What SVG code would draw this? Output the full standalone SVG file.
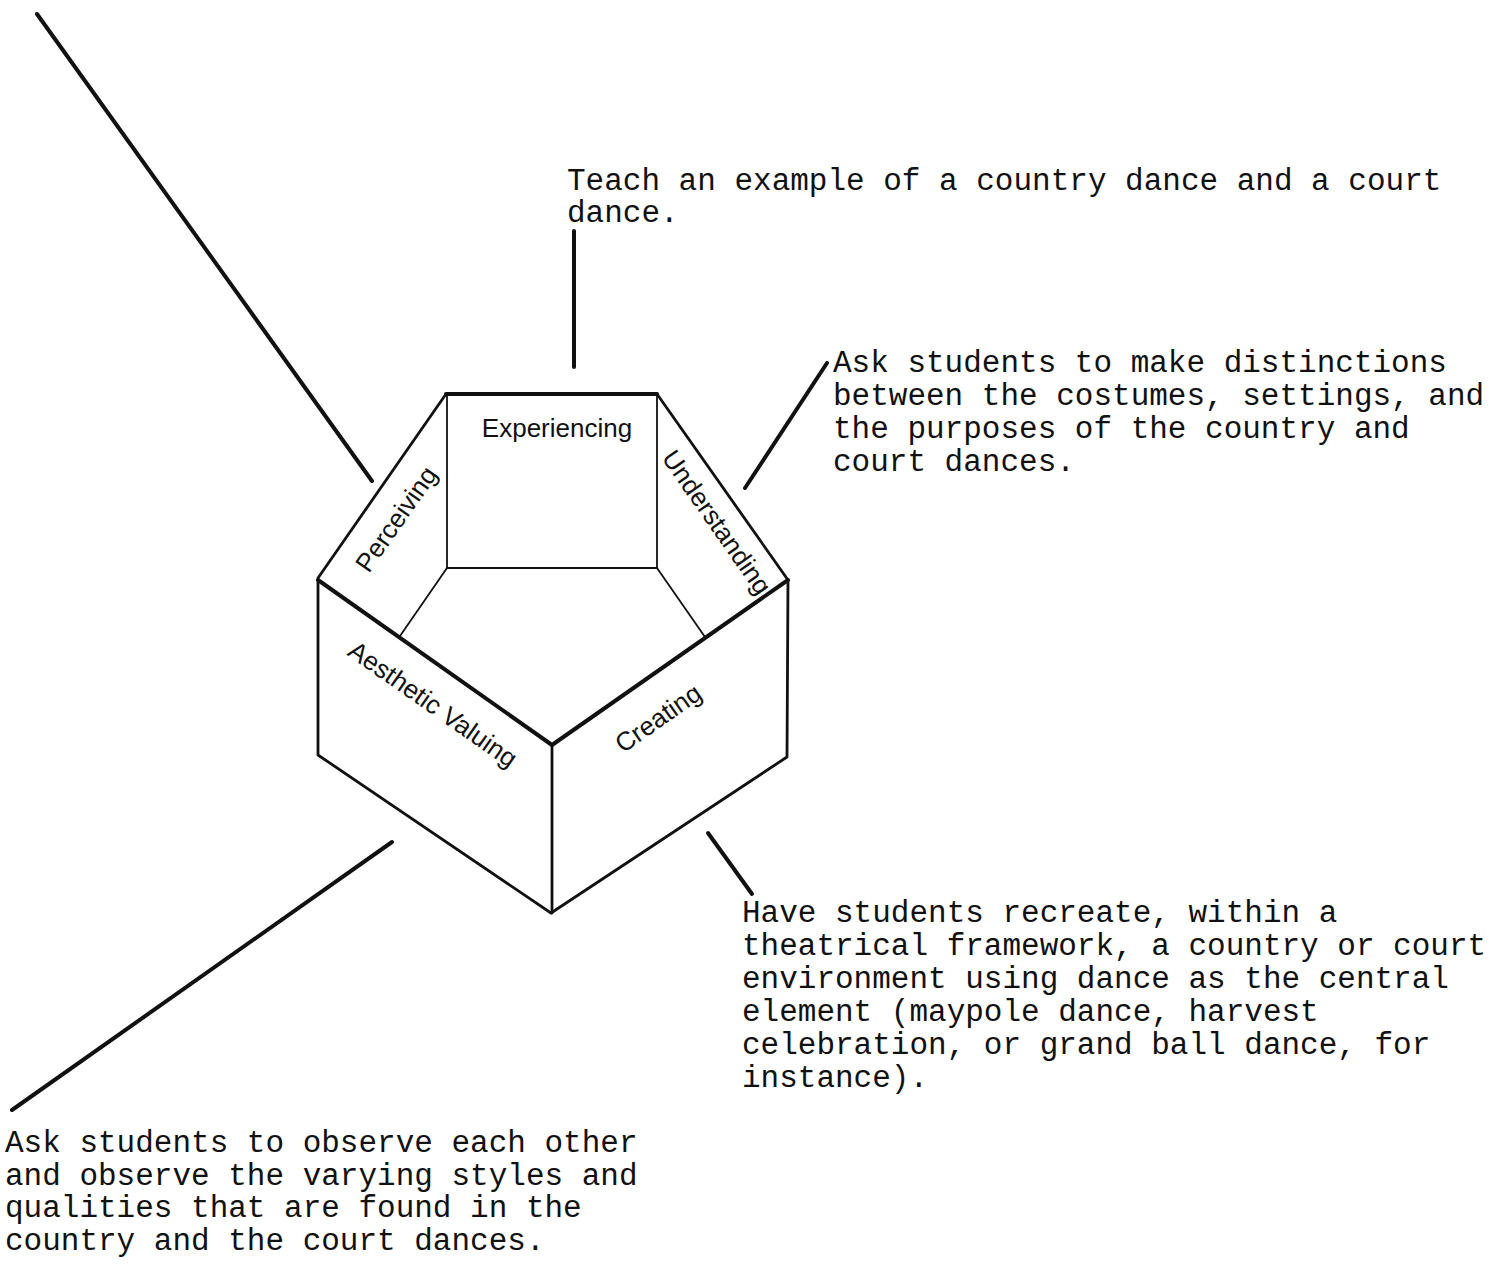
<svg xmlns="http://www.w3.org/2000/svg" width="1495" height="1270" viewBox="0 0 1495 1270">
<style>
.mono{font-family:"Liberation Mono","DejaVu Sans Mono",monospace;font-size:31px;fill:#111}
.lab{font-family:"Liberation Sans",Arial,sans-serif;font-size:26px;fill:#111;text-anchor:middle}
.thick{stroke:#111;stroke-width:4;fill:none;stroke-linecap:round;stroke-linejoin:round}
.mid{stroke:#111;stroke-width:2.8;fill:none;stroke-linecap:round;stroke-linejoin:round}
.thin{stroke:#111;stroke-width:1.8;fill:none;stroke-linecap:round}
.conn{stroke:#111;stroke-width:4;fill:none;stroke-linecap:round}
</style>
<rect width="1495" height="1270" fill="#fff"/>
<g id="pentagon">
  <path class="thick" d="M446,394 L657,394"/>
  <path class="mid" d="M446,394 L318,578 L318,755 L551,913 L787,757 L788,580 L657,394"/>
  <path class="thick" d="M318,580 L552,745 L788,580"/>
  <path class="mid" d="M552,745 L552,913"/>
  <path class="thin" d="M447,394 L447,568 L657,568 L657,394"/>
  <path class="thin" d="M447,568 L400,636"/>
  <path class="thin" d="M657,568 L705,637"/>
  <text class="lab" x="557" y="428" dy="0.35em">Experiencing</text>
  <text class="lab" transform="translate(396,519) rotate(-55)" dy="0.35em">Perceiving</text>
  <text class="lab" transform="translate(717,522) rotate(55)" dy="0.35em">Understanding</text>
  <text class="lab" transform="translate(433,704) rotate(35)" dy="0.35em">Aesthetic Valuing</text>
  <text class="lab" transform="translate(658,718) rotate(-35)" dy="0.35em">Creating</text>
</g>
<g id="connectors">
  <line class="conn" x1="37" y1="14" x2="372" y2="481"/>
  <line class="conn" x1="574" y1="231" x2="574" y2="367"/>
  <line class="conn" x1="827" y1="363" x2="745" y2="488"/>
  <line class="conn" x1="392" y1="842" x2="12" y2="1110"/>
  <line class="conn" x1="708" y1="833" x2="752" y2="894"/>
</g>
<g id="note-experiencing">
  <text class="mono" x="567" y="190">Teach an example of a country dance and a court</text>
  <text class="mono" x="567" y="222">dance.</text>
</g>
<g id="note-understanding">
  <text class="mono" x="833" y="372">Ask students to make distinctions</text>
  <text class="mono" x="833" y="405">between the costumes, settings, and</text>
  <text class="mono" x="833" y="438">the purposes of the country and</text>
  <text class="mono" x="833" y="471">court dances.</text>
</g>
<g id="note-creating">
  <text class="mono" x="742" y="922">Have students recreate, within a</text>
  <text class="mono" x="742" y="955">theatrical framework, a country or court</text>
  <text class="mono" x="742" y="988">environment using dance as the central</text>
  <text class="mono" x="742" y="1021">element (maypole dance, harvest</text>
  <text class="mono" x="742" y="1054">celebration, or grand ball dance, for</text>
  <text class="mono" x="742" y="1087">instance).</text>
</g>
<g id="note-valuing">
  <text class="mono" x="5" y="1152">Ask students to observe each other</text>
  <text class="mono" x="5" y="1185">and observe the varying styles and</text>
  <text class="mono" x="5" y="1217">qualities that are found in the</text>
  <text class="mono" x="5" y="1250">country and the court dances.</text>
</g>
</svg>
